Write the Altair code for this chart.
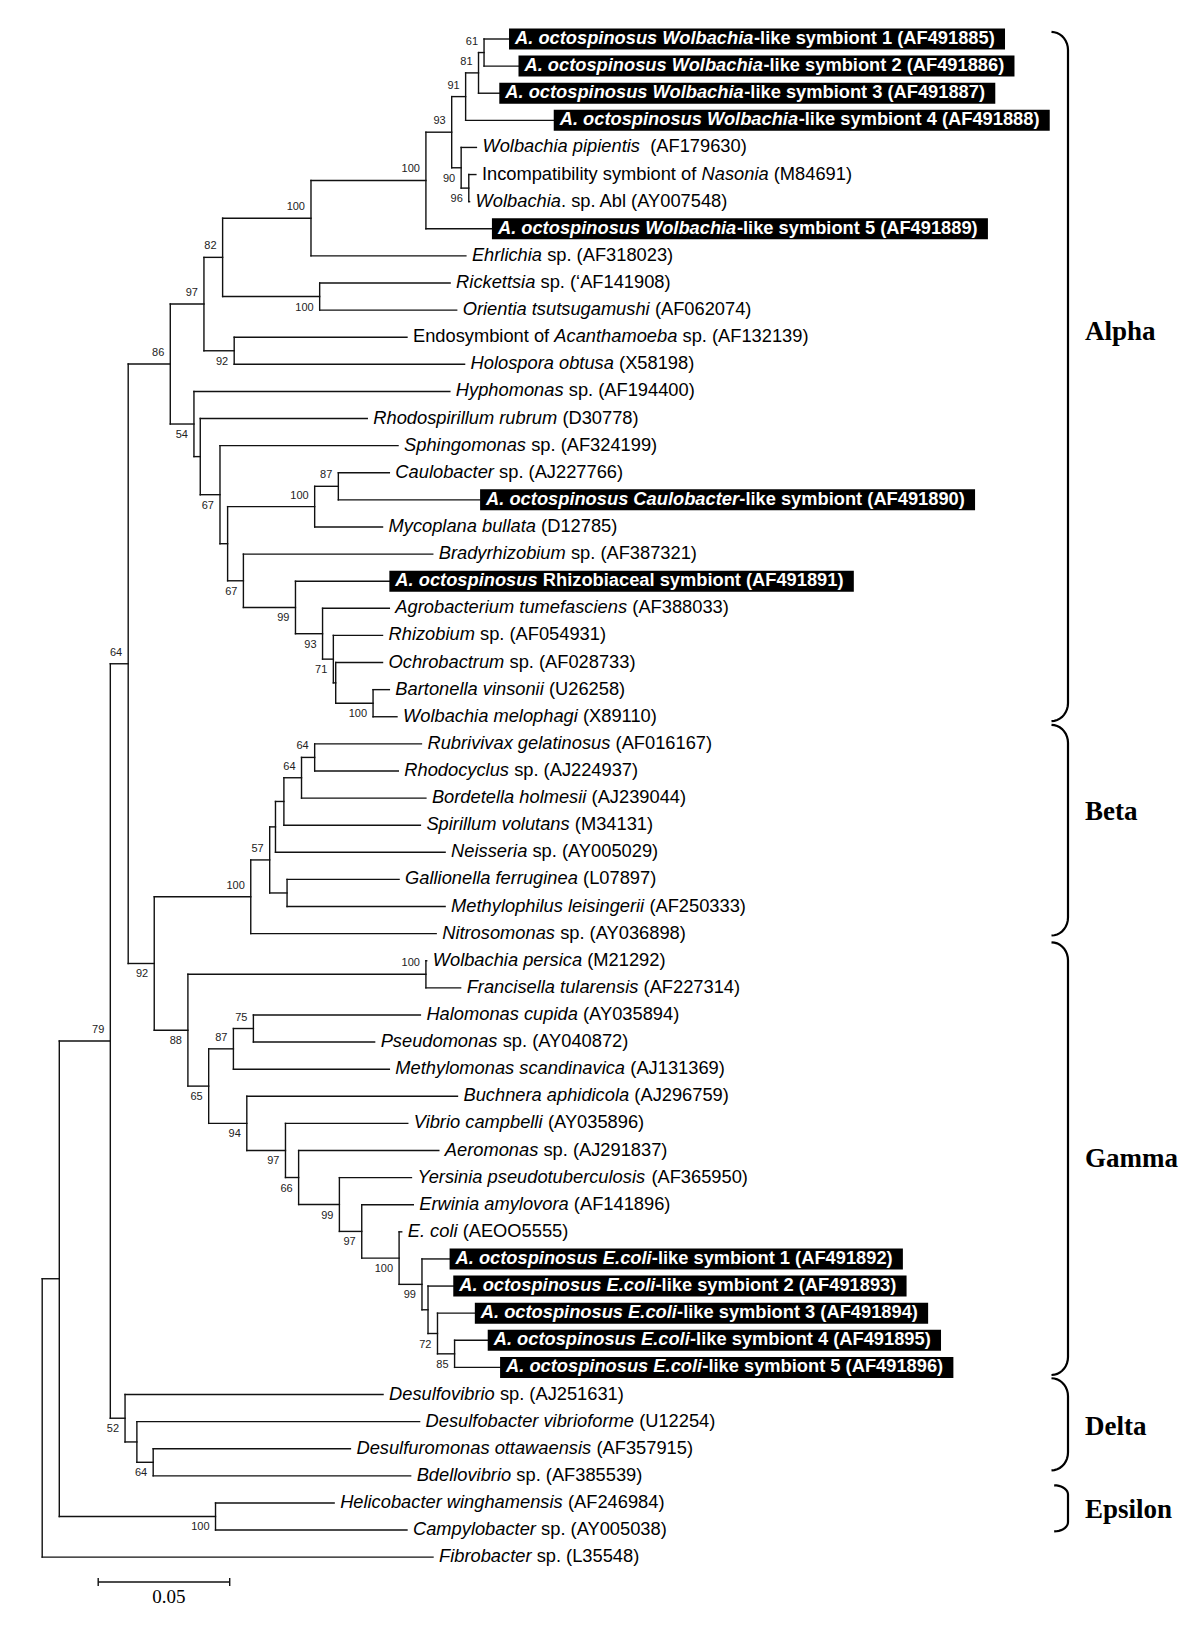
import math
import altair as alt
import pandas as pd

# ---------------------------------------------------------------- data
# leaf labels; text between * * is italic
leaf_labels = [
    "*A. octospinosus Wolbachia*-like symbiont 1 (AF491885)",
    "*A. octospinosus Wolbachia*-like symbiont 2 (AF491886)",
    "*A. octospinosus Wolbachia*-like symbiont 3 (AF491887)",
    "*A. octospinosus Wolbachia*-like symbiont 4 (AF491888)",
    "*Wolbachia pipientis*  (AF179630)",
    "Incompatibility symbiont of *Nasonia* (M84691)",
    "*Wolbachia*. sp. Abl (AY007548)",
    "*A. octospinosus Wolbachia*-like symbiont 5 (AF491889)",
    "*Ehrlichia* sp. (AF318023)",
    "*Rickettsia* sp. (\u2018AF141908)",
    "*Orientia tsutsugamushi* (AF062074)",
    "Endosymbiont of *Acanthamoeba* sp. (AF132139)",
    "*Holospora obtusa* (X58198)",
    "*Hyphomonas* sp. (AF194400)",
    "*Rhodospirillum rubrum* (D30778)",
    "*Sphingomonas* sp. (AF324199)",
    "*Caulobacter* sp. (AJ227766)",
    "*A. octospinosus Caulobacter*-like symbiont (AF491890)",
    "*Mycoplana bullata* (D12785)",
    "*Bradyrhizobium* sp. (AF387321)",
    "*A. octospinosus* Rhizobiaceal symbiont (AF491891)",
    "*Agrobacterium tumefasciens* (AF388033)",
    "*Rhizobium* sp. (AF054931)",
    "*Ochrobactrum* sp. (AF028733)",
    "*Bartonella vinsonii* (U26258)",
    "*Wolbachia melophagi* (X89110)",
    "*Rubrivivax gelatinosus* (AF016167)",
    "*Rhodocyclus* sp. (AJ224937)",
    "*Bordetella holmesii* (AJ239044)",
    "*Spirillum volutans* (M34131)",
    "*Neisseria* sp. (AY005029)",
    "*Gallionella ferruginea* (L07897)",
    "*Methylophilus leisingerii* (AF250333)",
    "*Nitrosomonas* sp. (AY036898)",
    "*Wolbachia persica* (M21292)",
    "*Francisella tularensis* (AF227314)",
    "*Halomonas cupida* (AY035894)",
    "*Pseudomonas* sp. (AY040872)",
    "*Methylomonas scandinavica* (AJ131369)",
    "*Buchnera aphidicola* (AJ296759)",
    "*Vibrio campbelli* (AY035896)",
    "*Aeromonas* sp. (AJ291837)",
    "*Yersinia pseudotuberculosis* (AF365950)",
    "*Erwinia amylovora* (AF141896)",
    "*E. coli* (AEOO5555)",
    "*A. octospinosus E.coli*-like symbiont 1 (AF491892)",
    "*A. octospinosus E.coli*-like symbiont 2 (AF491893)",
    "*A. octospinosus E.coli*-like symbiont 3 (AF491894)",
    "*A. octospinosus E.coli*-like symbiont 4 (AF491895)",
    "*A. octospinosus E.coli*-like symbiont 5 (AF491896)",
    "*Desulfovibrio* sp. (AJ251631)",
    "*Desulfobacter vibrioforme* (U12254)",
    "*Desulfuromonas ottawaensis* (AF357915)",
    "*Bdellovibrio* sp. (AF385539)",
    "*Helicobacter winghamensis* (AF246984)",
    "*Campylobacter* sp. (AY005038)",
    "*Fibrobacter* sp. (L35548)",
]

# distance of each leaf tip from the root (substitutions / site)
leaf_depths = [
    0.1775, 0.1811, 0.1738, 0.1945, 0.1651, 0.1649, 0.1625, 0.1710, 0.1611, 0.1551,
    0.1576, 0.1387, 0.1606, 0.1550, 0.1236, 0.1353, 0.1320, 0.1665, 0.1294, 0.1485,
    0.1320, 0.1320, 0.1294, 0.1294, 0.1320, 0.1349, 0.1442, 0.1354, 0.1459, 0.1438,
    0.1532, 0.1357, 0.1532, 0.1498, 0.1462, 0.1591, 0.1438, 0.1264, 0.1320, 0.1579,
    0.1390, 0.1508, 0.1404, 0.1411, 0.1367, 0.1549, 0.1563, 0.1645, 0.1694, 0.1741,
    0.1296, 0.1435, 0.1172, 0.1401, 0.1110, 0.1387, 0.1486,
]

# leaves shown white on black (this study's symbionts), 1-based
highlighted = [1, 2, 3, 4, 8, 18, 21, 46, 47, 48, 49, 50]

# internal nodes: id, depth from root, bootstrap support, children (int = leaf number)
node_ids = [
    "root", "n_a", "n79", "n64a", "n86", "n97", "n82", "n100a", "n100c", "n93",
    "n91", "n81", "n61", "n90", "n96", "n100b", "n92a", "n54", "n_rr", "n67a",
    "n_cb", "n100d", "n87", "n67b", "n99a", "n93b", "n71", "n_och", "n100e", "n92",
    "n100f", "n57", "n_nei", "n_spi", "n64b", "n64c", "n_gal", "n88", "n100g", "n65",
    "n87b", "n75", "n94", "n97b", "n66", "n99b", "n97c", "n100h", "n99c", "n_e2",
    "n72", "n85", "n52", "n_dsb", "n64d", "n_eps",
]
node_depths = [
    0.0, 0.0065, 0.0259, 0.0327, 0.0487, 0.0615, 0.0686, 0.1022, 0.1459, 0.1557,
    0.1610, 0.1659, 0.1680, 0.1593, 0.1622, 0.1055, 0.0730, 0.0577, 0.0601, 0.0676,
    0.0705, 0.1036, 0.1126, 0.0765, 0.0963, 0.1066, 0.1107, 0.1116, 0.1258, 0.0426,
    0.0793, 0.0865, 0.0887, 0.0919, 0.0986, 0.1036, 0.0931, 0.0554, 0.1459, 0.0633,
    0.0727, 0.0803, 0.0778, 0.0925, 0.0975, 0.1130, 0.1215, 0.1357, 0.1444, 0.1467,
    0.1503, 0.1568, 0.0315, 0.0360, 0.0422, 0.0659,
]
node_support = [
    None, None, 79, 64, 86, 97, 82, 100, 100, 93,
    91, 81, 61, 90, 96, 100, 92, 54, None, 67,
    None, 100, 87, 67, 99, 93, 71, None, 100, 92,
    100, 57, None, None, 64, 64, None, 88, 100, 65,
    87, 75, 94, 97, 66, 99, 97, 100, 99, None,
    72, 85, 52, None, 64, 100,
]
node_children = [
    ["n_a", 57], ["n79", "n_eps"], ["n64a", "n52"], ["n86", "n92"], ["n97", "n54"],
    ["n82", "n92a"], ["n100a", "n100b"], ["n100c", 9], ["n93", 8], ["n91", "n90"],
    ["n81", 4], ["n61", 3], [1, 2], [5, "n96"], [6, 7],
    [10, 11], [12, 13], [14, "n_rr"], [15, "n67a"], [16, "n_cb"],
    ["n100d", "n67b"], ["n87", 19], [17, 18], [20, "n99a"], [21, "n93b"],
    [22, "n71"], [23, "n_och"], [24, "n100e"], [25, 26], ["n100f", "n88"],
    ["n57", 34], ["n_nei", "n_gal"], ["n_spi", 31], ["n64b", 30], ["n64c", 29],
    [27, 28], [32, 33], ["n100g", "n65"], [35, 36], ["n87b", "n94"],
    ["n75", 39], [37, 38], [40, "n97b"], [41, "n66"], [42, "n99b"],
    [43, "n97c"], [44, "n100h"], [45, "n99c"], [46, "n_e2"], [47, "n72"],
    [48, "n85"], [49, 50], [51, "n_dsb"], [52, "n64d"], [53, 54],
    [55, 56],
]

# taxonomic groups: bracket extent and label row, in leaf rows
group_names = ["Alpha", "Beta", "Gamma", "Delta", "Epsilon"]
group_first = [0.74, 26.30, 34.32, 50.40, 54.35]
group_last = [26.16, 34.07, 50.28, 53.80, 56.05]
group_label_row = [11.8, 29.5, 42.3, 52.2, 55.25]

scale_bar_length = 0.05
scale_bar_label = "0.05"

# ---------------------------------------------------------------- layout
PLOT_W, PLOT_H = 1183, 1605
PX_PER_UNIT = 2630.0
ROOT_PX = 34.2
ROW_PX = 27.11
FIRST_ROW_PX = 31.0
LABEL_SIZE = 18.3
SANS = "Liberation Sans"
SERIF = "Liberation Serif"

X_DOM = [-ROOT_PX / PX_PER_UNIT, (PLOT_W - ROOT_PX) / PX_PER_UNIT]
Y_DOM = [1 - FIRST_ROW_PX / ROW_PX, 1 + (PLOT_H - FIRST_ROW_PX) / ROW_PX]


def px2x(px):
    return (px - ROOT_PX) / PX_PER_UNIT


def dpx(px):
    return px / PX_PER_UNIT


def py2row(py):
    return 1 + (py - FIRST_ROW_PX) / ROW_PX


# Arial / Liberation Sans advance widths (1/1000 em)
def _tbl(spec):
    d = {}
    for item in spec.split():
        chars, w = item.rsplit(":", 1)
        for c in chars:
            d[c] = int(w)
    return d


REG_W = _tbl("():333 -:333 .:278 \u2018:222 0123456789:556 ABEKPSVXY:667 CDHNRUw:722 "
             "F:611 TZ:611 GOQ:778 IJ:278 L:556 M:833 W:944 "
             "abdeghnopqu:556 ckvxyzs:500 fjt:278 il:222 m:833 r:333")
REG_W["J"] = 500
REG_W["f"] = 278
REG_W["j"] = 222
REG_W[" "] = 278
BOLD_W = _tbl("():333 -:333 .:278 0123456789:556 ABCDHNRU:722 E:667 F:611 GO:778 "
              "IL:278 M:833 W:944 acekvsxy:556 bdghnopqu:611 fjt:333 il:278 m:889 "
              "r:389 w:778 z:500")
BOLD_W["i"] = 278
BOLD_W["j"] = 278
BOLD_W["f"] = 333
BOLD_W["t"] = 333
BOLD_W[" "] = 278


def twidth(s, bold):
    t = BOLD_W if bold else REG_W
    return sum(t.get(c, 556) for c in s) * LABEL_SIZE / 1000.0


# ---------------------------------------------------------------- tree geometry
nodes = {nid: (dep, sup, ch) for nid, dep, sup, ch in
         zip(node_ids, node_depths, node_support, node_children)}
parent = {}
for nid, (_, _, ch) in nodes.items():
    for i, c in enumerate(ch):
        parent[c] = (nid, i)

ypos = {}


def gety(c):
    if isinstance(c, int):
        return float(c)
    ch = nodes[c][2]
    y = (gety(ch[0]) + gety(ch[-1])) / 2.0
    ypos[c] = y
    return y


gety("root")


def getd(c):
    return leaf_depths[c - 1] if isinstance(c, int) else nodes[c][0]


rules = []
for nid, (dep, sup, ch) in nodes.items():
    rules.append(dict(x=dep, x2=dep, y=gety(ch[0]), y2=gety(ch[-1])))
    for c in ch:
        yc = gety(c)
        rules.append(dict(x=dep, x2=getd(c), y=yc, y2=yc))
rules_df = pd.DataFrame(rules)

sup_rows = []
for nid, (dep, sup, ch) in nodes.items():
    if sup is None:
        continue
    first = parent[nid][1] == 0
    off = -11.0 / ROW_PX if first else 11.0 / ROW_PX
    sup_rows.append(dict(x=dep, y=ypos[nid] + off, t=str(sup)))
sup_df = pd.DataFrame(sup_rows)

# leaf labels split into italic / upright pieces
seg = {(False, True): [], (False, False): [], (True, True): [], (True, False): []}
boxes = []
for i, (lab, tip) in enumerate(zip(leaf_labels, leaf_depths), start=1):
    hl = i in highlighted
    off = 6.0
    parts = lab.split("*")
    for k, p in enumerate(parts):
        if not p:
            continue
        ital = (k % 2 == 1)
        lead = len(p) - len(p.lstrip(" "))
        off += twidth(" " * lead, hl)
        core = p.strip(" ")
        trail = len(p) - lead - len(core)
        if core:
            seg[(hl, ital)].append(dict(x=tip + dpx(off), y=float(i), t=core))
            off += twidth(core, hl)
        off += twidth(" " * trail, hl)
    if hl:
        boxes.append(dict(x=tip, x2=tip + dpx(off + 10.0),
                          y=i - 10.5 / ROW_PX, y2=i + 10.5 / ROW_PX))
boxes_df = pd.DataFrame(boxes)

# group brackets
SPINE_PX = 1060.0
br = []
for g, a, b in zip(group_names, group_first, group_last):
    top, bot = (a - 1) * ROW_PX + FIRST_ROW_PX, (b - 1) * ROW_PX + FIRST_ROW_PX
    span = bot - top
    r = min(18.0, 0.2 * span)
    hx = min(16.5, 0.3 * span)
    k = 0
    for deg in range(0, 91, 10):
        t = math.radians(deg)
        br.append(dict(g=g, o=k, x=px2x(SPINE_PX - hx + hx * math.sin(t)),
                       y=py2row(top + r - r * math.cos(t))))
        k += 1
    for deg in range(90, -1, -10):
        t = math.radians(deg)
        br.append(dict(g=g, o=k, x=px2x(SPINE_PX - hx + hx * math.sin(t)),
                       y=py2row(bot - r + r * math.cos(t))))
        k += 1
br_df = pd.DataFrame(br)
glab_df = pd.DataFrame(dict(x=[px2x(1077.0)] * len(group_names),
                            y=group_label_row, t=group_names))

# scale bar
sb_x0 = px2x(90.2)
sb_y = py2row(1574.0)
tick = 4.0 / ROW_PX
sb_df = pd.DataFrame([
    dict(x=sb_x0, x2=sb_x0 + scale_bar_length, y=sb_y, y2=sb_y),
    dict(x=sb_x0, x2=sb_x0, y=sb_y - tick, y2=sb_y + tick),
    dict(x=sb_x0 + scale_bar_length, x2=sb_x0 + scale_bar_length, y=sb_y - tick, y2=sb_y + tick),
])
sbl_df = pd.DataFrame([dict(x=sb_x0 + scale_bar_length / 2, y=py2row(1589.0), t=scale_bar_label)])

# ---------------------------------------------------------------- chart
xs = alt.Scale(domain=X_DOM, nice=False, zero=False)
ys = alt.Scale(domain=Y_DOM, nice=False, zero=False, reverse=True)


def X(f="x"):
    return alt.X(f, type="quantitative", scale=xs, axis=None)


def Y(f="y"):
    return alt.Y(f, type="quantitative", scale=ys, axis=None)


tree = alt.Chart(rules_df).mark_rule(color="#111111", strokeWidth=1.4, strokeCap="square").encode(
    x=X(), x2="x2", y=Y(), y2="y2")

support = alt.Chart(sup_df).mark_text(align="right", baseline="middle", dx=-6, font=SANS,
                                      fontSize=11, color="#222222").encode(x=X(), y=Y(), text="t")

box_layer = alt.Chart(boxes_df).mark_rect(color="black").encode(x=X(), x2="x2", y=Y(), y2="y2")

text_layers = []
for (hl, ital), rows in seg.items():
    if not rows:
        continue
    text_layers.append(
        alt.Chart(pd.DataFrame(rows)).mark_text(
            align="left", baseline="middle", font=SANS, fontSize=LABEL_SIZE,
            fontStyle="italic" if ital else "normal",
            fontWeight="bold" if hl else "normal",
            color="white" if hl else "black",
        ).encode(x=X(), y=Y(), text="t"))

brackets = alt.Chart(br_df).mark_line(color="black", strokeWidth=2.2).encode(
    x=X(), y=Y(), detail="g:N", order="o:Q")

group_text = alt.Chart(glab_df).mark_text(align="left", baseline="middle", font=SERIF,
                                          fontSize=27, fontWeight="bold", color="black").encode(
    x=X(), y=Y(), text="t")

scalebar = alt.Chart(sb_df).mark_rule(color="#111111", strokeWidth=1.4).encode(
    x=X(), x2="x2", y=Y(), y2="y2")
scalebar_text = alt.Chart(sbl_df).mark_text(align="center", baseline="middle", font=SERIF,
                                            fontSize=19, dx=5, color="black").encode(
    x=X(), y=Y(), text="t")

chart = alt.layer(
    tree, support, box_layer, *text_layers, brackets, group_text, scalebar, scalebar_text
).properties(
    width=PLOT_W, height=PLOT_H, padding=0,
    autosize=alt.AutoSizeParams(type="none"),
    background="white",
).configure_view(stroke=None)

chart.save("out.html", embed_options={"renderer": "svg", "actions": False})
